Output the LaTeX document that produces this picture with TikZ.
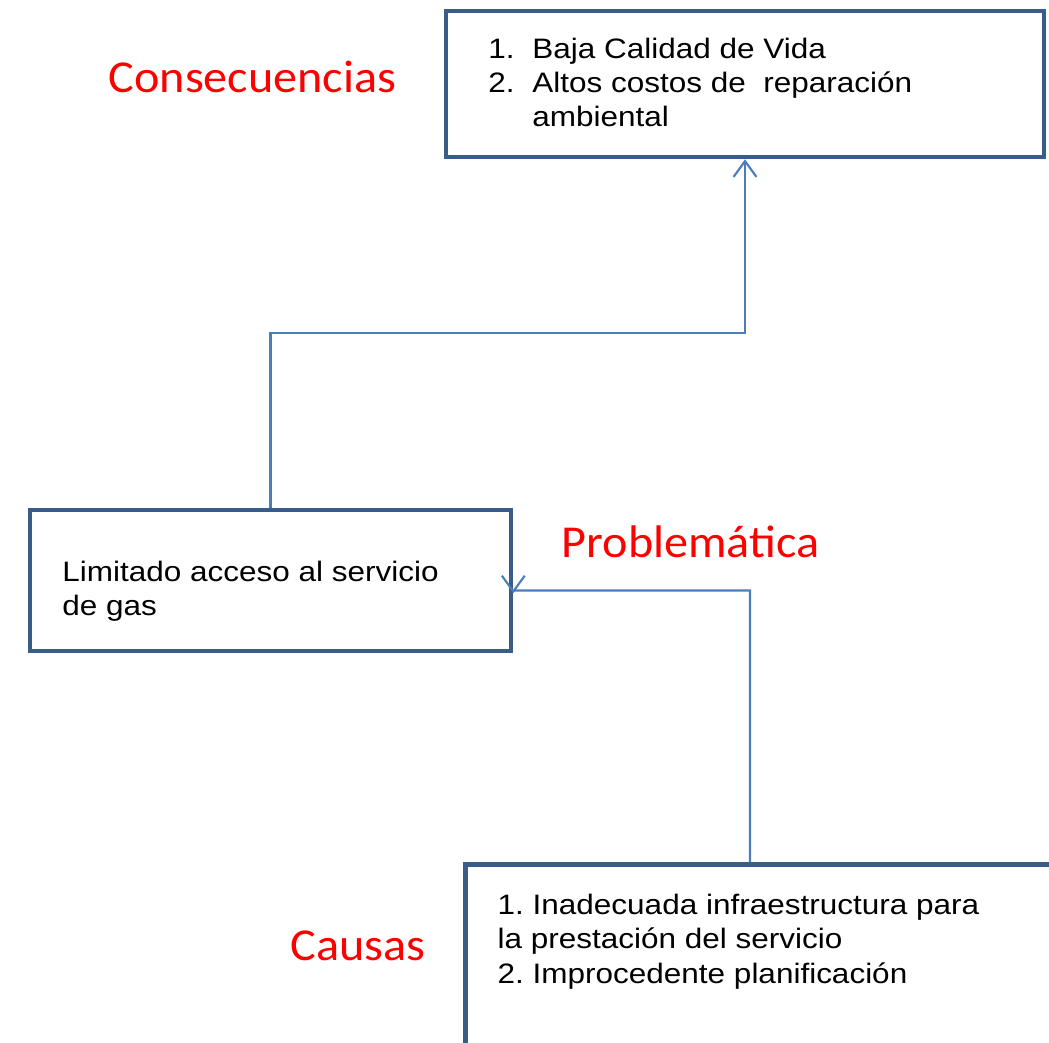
\documentclass[tikz,border=0pt]{standalone}
\usepackage{fontspec}
\usepackage{xcolor}
\usetikzlibrary{arrows.meta,positioning,calc}
\newfontfamily\boxfont[FakeStretch=1.12]{Liberation Sans}
\newfontfamily\tagfont[FakeStretch=1.055]{Carlito}
\definecolor{boxblue}{RGB}{56,93,138}
\definecolor{linkblue}{RGB}{74,126,187}
\definecolor{tagred}{RGB}{255,0,0}
\newcommand{\numlabel}[1]{\makebox[0.44cm][l]{#1}}
\frenchspacing
\tikzset{
  box/.style={
    rectangle, draw=boxblue, fill=white, line width=1.3pt,
    inner sep=0pt
  },
  boxtext/.style={
    inner sep=0pt, align=left, anchor=base west,
    font=\boxfont\fontsize{8}{9.7}\selectfont
  },
  tag/.style={
    inner sep=0pt, anchor=base west, text=tagred,
    font=\tagfont\fontsize{13}{15}\selectfont
  },
  link/.style={-{Straight Barb[length=4.5pt,width=6.5pt]}, line width=0.6pt, color=linkblue},
}
\begin{document}
\begin{tikzpicture}
  \useasboundingbox (0,0) rectangle (10.49,10.42);
  \clip (0,0) rectangle (10.49,10.42);

  % Boxes
  \node[box, minimum width=5.98cm, minimum height=1.46cm] (conseq) at (7.45,9.58) {};
  \node[box, minimum width=4.81cm, minimum height=1.41cm] (prob) at (2.705,4.615) {};
  \node[box, minimum width=6.2cm, minimum height=2cm, anchor=north west] (cause) at (4.63,1.80) {};

  % Box texts (anchored at the last baseline)
  \node[boxtext] (conseqtext) at ([xshift=0.44cm, yshift=-1.18cm]conseq.north west)
    {\numlabel{1.}Baja Calidad de Vida\\
     \numlabel{2.}Altos costos de\ \ reparación\\
     \numlabel{}ambiental};
  \node[boxtext] (probtext) at ([xshift=0.34cm, yshift=-1.08cm]prob.north west)
    {Limitado acceso al servicio\\de gas};
  \node[boxtext] (causetext) at ([xshift=0.34cm, yshift=-1.21cm]cause.north west)
    {1. Inadecuada infraestructura para\\
     la prestación del servicio\\
     2. Improcedente planificación};

  % Labels
  \node[tag] (conseqtag) at (1.08,9.49) {Consecuencias};
  \node[tag] (probtag) at (5.61,4.85) {Problemática};
  \node[tag] (causetag) at (2.90,0.82) {Causas};

  % Connectors
  \coordinate (upturn) at (7.45,7.09);
  \draw[link] (prob.north) |- (upturn) -- (conseq.south);

  \coordinate (causetop) at ([xshift=2.87cm]cause.north west);
  \coordinate (leftturn) at (7.50,4.515);
  \coordinate (probin) at (prob.east |- leftturn);
  \draw[link] (causetop) -- (leftturn) -- (probin) -- ([yshift=-0.8pt]probin);

\end{tikzpicture}
\end{document}
